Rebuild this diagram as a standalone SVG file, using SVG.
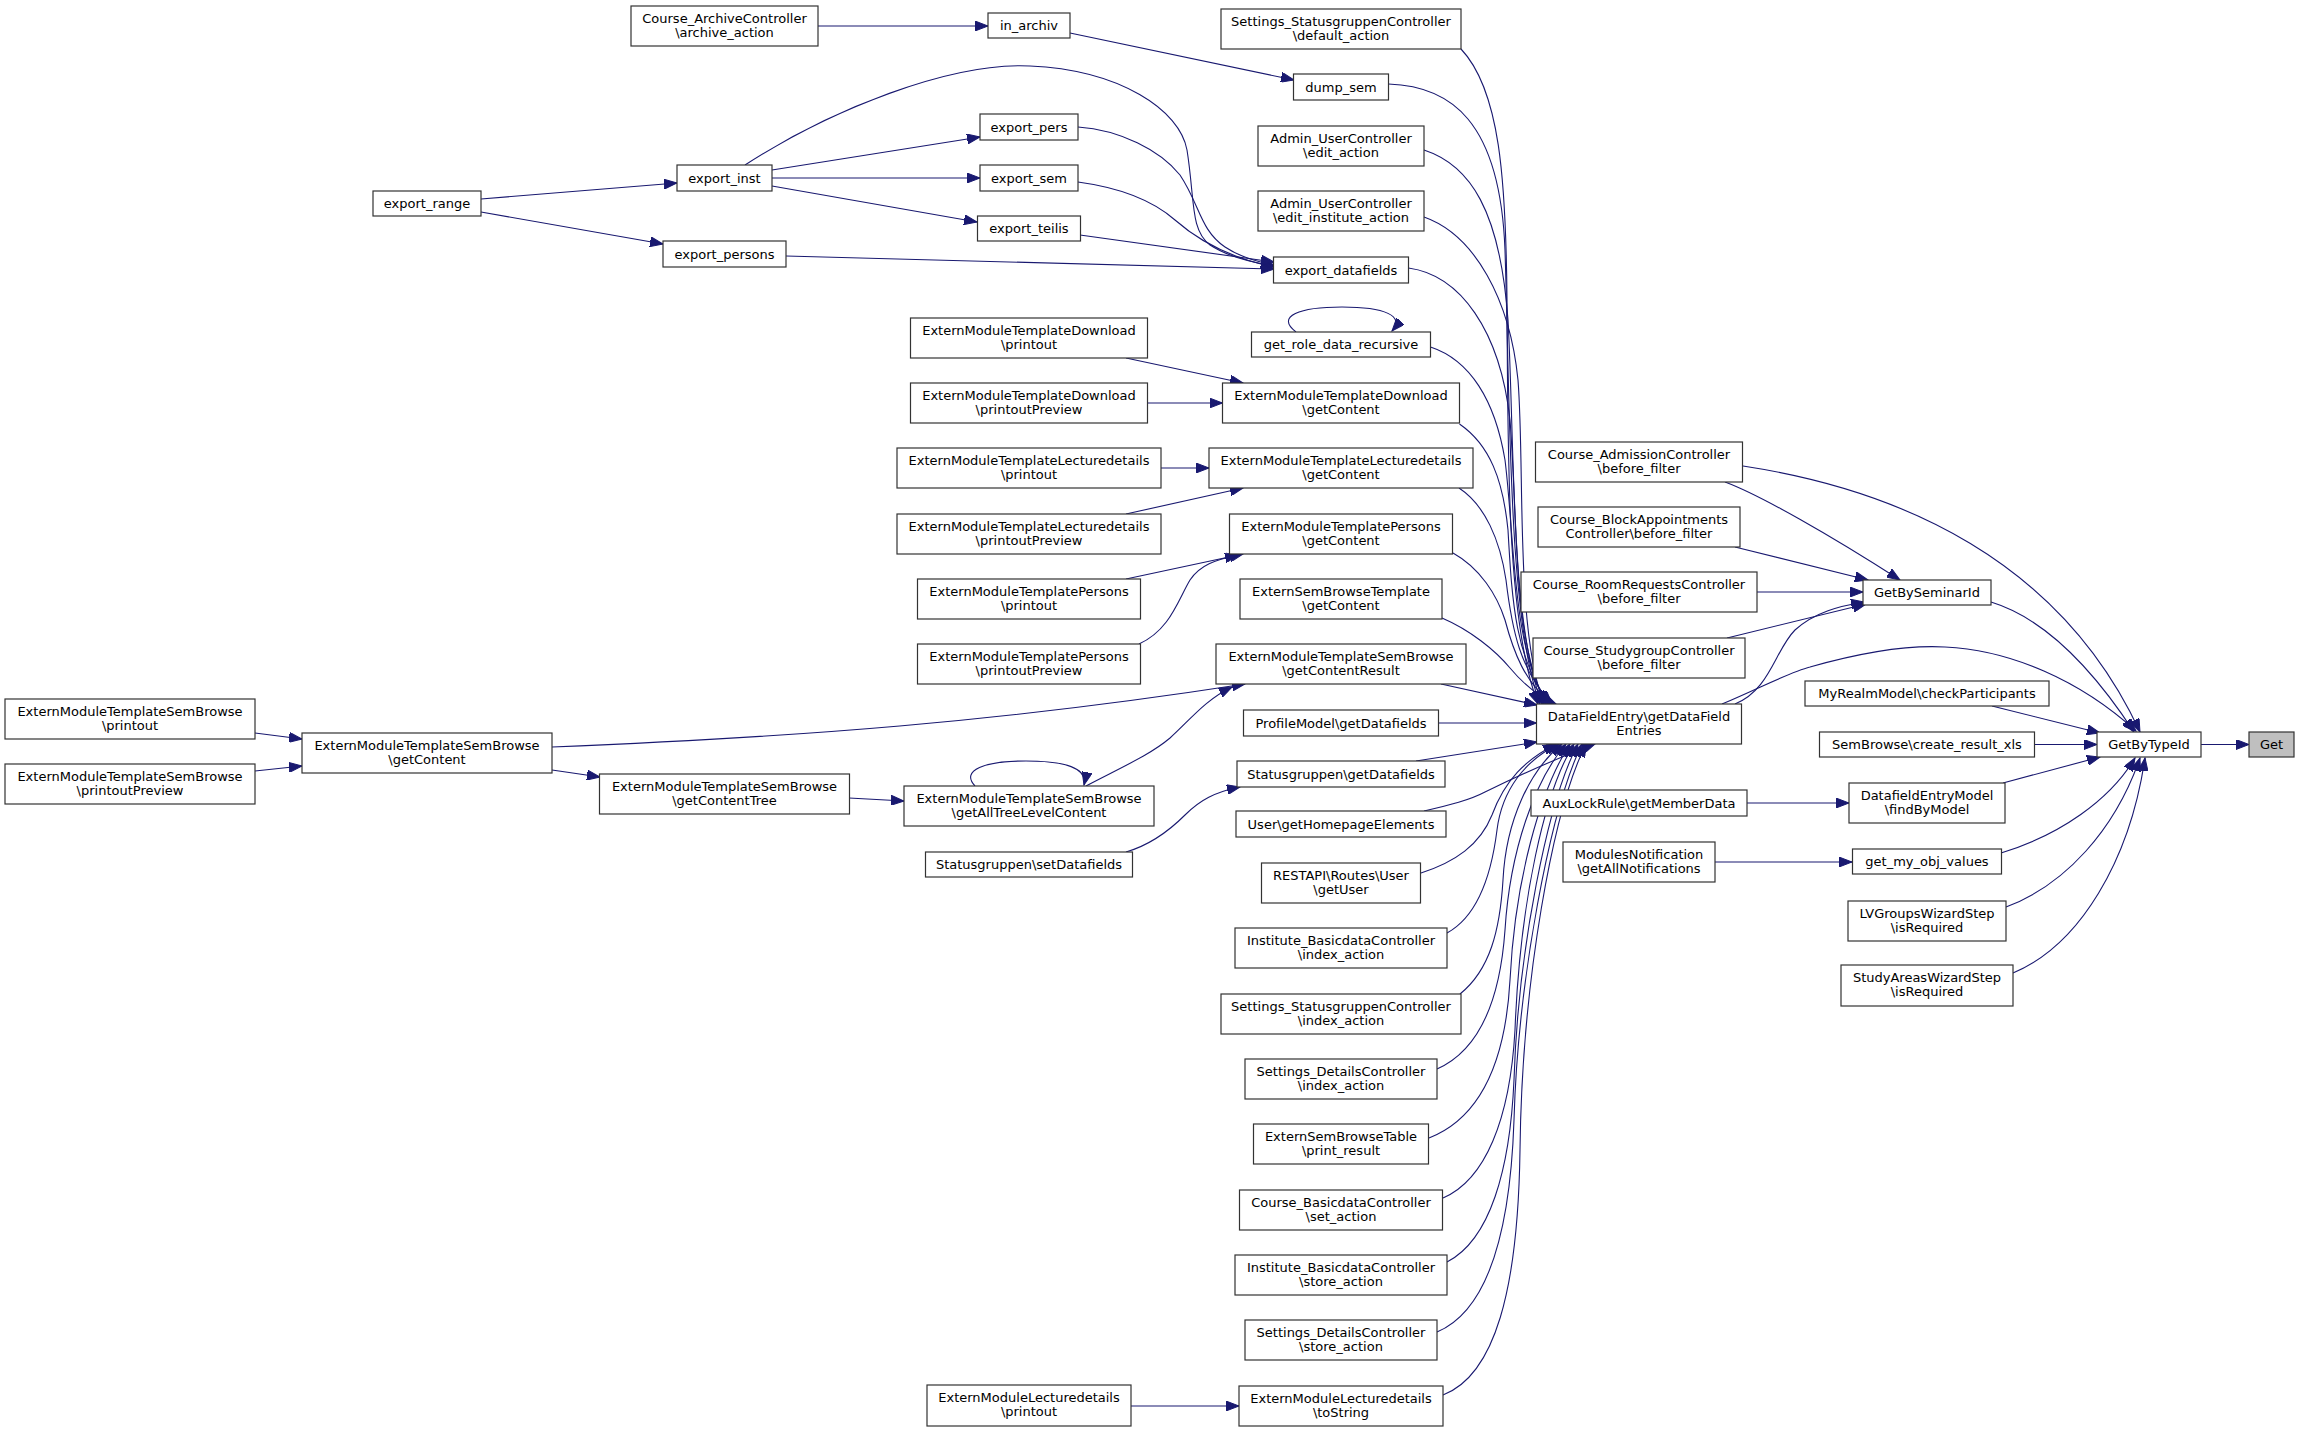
<svg xmlns="http://www.w3.org/2000/svg" width="2299" height="1432" viewBox="0 0 2299 1432">
<defs>
<marker id="arr" markerUnits="userSpaceOnUse" markerWidth="14" markerHeight="10" refX="13" refY="5" orient="auto">
<path d="M0,0 L13,5 L0,10 z" fill="#191970" stroke="#191970" stroke-width="1"/>
</marker>
<style>
.node rect{fill:#ffffff;stroke:#333333;stroke-width:1.2}
.node.hl rect{fill:#bfbfbf}
.node text{font-family:"DejaVu Sans","Liberation Sans",sans-serif;font-size:13px;text-anchor:middle;fill:#000000}
.edges path{fill:none;stroke:#191970;stroke-width:1.1;marker-end:url(#arr)}
</style>
</defs>
<rect x="0" y="0" width="2299" height="1432" fill="#ffffff"/>
<g class="edges" id="connectors">
<path d="M2201,744.5 L2249,744.5"/>
<path d="M2034.5,744.5 L2097,744.5"/>
<path d="M1992,706 L2100,733"/>
<path d="M2003,783 L2100,757"/>
<path d="M2001,853 C2060,835 2110,800 2135,758"/>
<path d="M2006,907 C2065,885 2115,830 2140,758"/>
<path d="M2013,973 C2080,945 2130,860 2145,758"/>
<path d="M1991,602 C2050,620 2100,680 2134,732"/>
<path d="M1743,466 C1900,490 2060,560 2140,732"/>
<path d="M1725,482 C1760,495 1830,535 1900,580"/>
<path d="M1735,547 L1868,580"/>
<path d="M1757,592 L1863,592"/>
<path d="M1727,638 L1866,604"/>
<path d="M1735,704 C1770,690 1775,650 1795,630 C1815,612 1840,606 1864,602"/>
<path d="M1722,704 C1760,688 1790,672 1810,667 C1870,650 1910,645 1945,647 C2010,650 2080,680 2136,731"/>
<path d="M1747,803 L1849,803"/>
<path d="M1715,862 L1852,862"/>
<path d="M481,199 L677,183"/>
<path d="M481,212 L663,244"/>
<path d="M772,170 L980,137"/>
<path d="M772,178 L980,178"/>
<path d="M772,186 L977,222"/>
<path d="M818,26 L988,26"/>
<path d="M1070,33 L1294,80"/>
<path d="M745,165 C830,110 950,62 1030,66 C1120,70 1180,110 1187,150 C1195,200 1190,230 1210,245 C1230,258 1255,263 1274,266"/>
<path d="M1078,127 C1120,130 1160,150 1180,175 C1200,205 1200,230 1225,247 C1240,257 1258,262 1274,265"/>
<path d="M1078,182 C1115,187 1150,198 1175,220 C1200,242 1230,258 1274,267"/>
<path d="M1080,235 L1274,262"/>
<path d="M786,256 L1274,269"/>
<path d="M1296,332 C1275,316 1300,307 1342,307 C1385,307 1405,316 1392,331"/>
<path d="M1126,358 L1243,383"/>
<path d="M1147.5,403 L1222.5,403"/>
<path d="M1161,468 L1209,468"/>
<path d="M1126,514 L1243,488"/>
<path d="M1126,579 L1243,554"/>
<path d="M1139,644 C1170,630 1178,600 1190,580 C1200,565 1215,560 1238,555"/>
<path d="M255,733 L302,739"/>
<path d="M255,771 L302,766"/>
<path d="M552,747 C800,737 1000,722 1245,684"/>
<path d="M552,770 L600,777"/>
<path d="M849,798 L904,801"/>
<path d="M1086,786 C1120,768 1150,755 1170,738 C1190,720 1205,700 1232,687"/>
<path d="M975,786 C960,770 985,761 1026,761 C1065,761 1088,768 1084,785"/>
<path d="M1126,852 C1150,845 1170,830 1185,815 C1200,800 1215,792 1240,787"/>
<path d="M1131,1406 L1239,1406"/>
<path d="M1461,49 C1500,90 1506,180 1507,300 C1508,450 1506,620 1538,704"/>
<path d="M1388.5,84 C1450,86 1500,120 1505,250 C1510,400 1508,620 1540,704"/>
<path d="M1424,150 C1470,165 1500,210 1508,320 C1515,450 1510,620 1542,704"/>
<path d="M1424,217 C1475,235 1510,300 1518,380 C1525,470 1515,630 1544,704"/>
<path d="M1408.5,268 C1460,275 1500,330 1510,420 C1518,520 1512,640 1546,704"/>
<path d="M1430.5,347 C1470,360 1495,400 1505,460 C1515,540 1512,650 1548,704"/>
<path d="M1459.5,424 C1490,445 1503,480 1508,530 C1512,600 1515,660 1550,704"/>
<path d="M1459,488 C1485,505 1500,540 1506,580 C1512,630 1520,670 1552,704"/>
<path d="M1453,553 C1480,568 1497,595 1505,620 C1513,650 1525,685 1554,704"/>
<path d="M1442,618 C1470,630 1495,650 1510,668 C1520,680 1535,695 1556,704"/>
<path d="M1441,684 L1537,705"/>
<path d="M1438.5,723 L1536.5,723"/>
<path d="M1416,761 L1537,742"/>
<path d="M1424,811 C1450,805 1470,800 1485,792 C1520,775 1560,757 1595,744"/>
<path d="M1421,873 C1455,862 1480,845 1492,815 C1505,780 1525,760 1556,744"/>
<path d="M1447,933 C1480,915 1492,870 1497,830 C1502,790 1525,760 1559,744"/>
<path d="M1460,994 C1490,970 1500,930 1503,880 C1506,820 1530,770 1562,744"/>
<path d="M1437,1069 C1480,1050 1500,1000 1505,930 C1510,850 1535,780 1566,744"/>
<path d="M1429,1138 C1475,1120 1505,1070 1510,980 C1515,880 1540,790 1570,744"/>
<path d="M1443,1198 C1485,1180 1510,1120 1515,1030 C1520,900 1545,790 1574,744"/>
<path d="M1447,1262 C1490,1240 1510,1170 1514,1080 C1518,950 1548,800 1578,744"/>
<path d="M1437,1332 C1485,1312 1510,1240 1514,1120 C1518,980 1550,810 1582,744"/>
<path d="M1443,1395 C1495,1375 1518,1290 1520,1150 C1522,980 1553,810 1586,744"/>
</g>
<g id="n_sbprintout" class="node"><rect x="5" y="699" width="250" height="40"/><text x="130" y="715.5">ExternModuleTemplateSemBrowse</text><text x="130" y="730">\printout</text></g>
<g id="n_sbprintoutprev" class="node"><rect x="5" y="764" width="250" height="40"/><text x="130" y="780.5">ExternModuleTemplateSemBrowse</text><text x="130" y="795">\printoutPreview</text></g>
<g id="n_export_range" class="node"><rect x="373" y="191" width="108" height="25"/><text x="427" y="208">export_range</text></g>
<g id="n_sbgetcontent" class="node"><rect x="302" y="733" width="250" height="40"/><text x="427" y="749.5">ExternModuleTemplateSemBrowse</text><text x="427" y="764">\getContent</text></g>
<g id="n_archive" class="node"><rect x="631" y="6" width="187" height="40"/><text x="724.5" y="22.5">Course_ArchiveController</text><text x="724.5" y="37">\archive_action</text></g>
<g id="n_export_inst" class="node"><rect x="677" y="165" width="95" height="26"/><text x="724.5" y="182.5">export_inst</text></g>
<g id="n_export_persons" class="node"><rect x="663" y="241" width="123" height="26"/><text x="724.5" y="258.5">export_persons</text></g>
<g id="n_getcontenttree" class="node"><rect x="599.5" y="774" width="250" height="40"/><text x="724.5" y="790.5">ExternModuleTemplateSemBrowse</text><text x="724.5" y="805">\getContentTree</text></g>
<g id="n_in_archiv" class="node"><rect x="988" y="13" width="82" height="25"/><text x="1029" y="30">in_archiv</text></g>
<g id="n_export_pers" class="node"><rect x="980" y="114" width="98" height="26"/><text x="1029" y="131.5">export_pers</text></g>
<g id="n_export_sem" class="node"><rect x="980" y="165" width="98" height="26"/><text x="1029" y="182.5">export_sem</text></g>
<g id="n_export_teilis" class="node"><rect x="977.5" y="216" width="103" height="25"/><text x="1029" y="233">export_teilis</text></g>
<g id="n_dlprintout" class="node"><rect x="910.5" y="318" width="237" height="40"/><text x="1029" y="334.5">ExternModuleTemplateDownload</text><text x="1029" y="349">\printout</text></g>
<g id="n_dlprintoutprev" class="node"><rect x="910.5" y="383" width="237" height="40"/><text x="1029" y="399.5">ExternModuleTemplateDownload</text><text x="1029" y="414">\printoutPreview</text></g>
<g id="n_ldprintout" class="node"><rect x="897" y="448" width="264" height="40"/><text x="1029" y="464.5">ExternModuleTemplateLecturedetails</text><text x="1029" y="479">\printout</text></g>
<g id="n_ldprintoutprev" class="node"><rect x="897" y="514" width="264" height="40"/><text x="1029" y="530.5">ExternModuleTemplateLecturedetails</text><text x="1029" y="545">\printoutPreview</text></g>
<g id="n_psprintout" class="node"><rect x="917.5" y="579" width="223" height="40"/><text x="1029" y="595.5">ExternModuleTemplatePersons</text><text x="1029" y="610">\printout</text></g>
<g id="n_psprintoutprev" class="node"><rect x="917.5" y="644" width="223" height="40"/><text x="1029" y="660.5">ExternModuleTemplatePersons</text><text x="1029" y="675">\printoutPreview</text></g>
<g id="n_getalltree" class="node"><rect x="904" y="786" width="250" height="40"/><text x="1029" y="802.5">ExternModuleTemplateSemBrowse</text><text x="1029" y="817">\getAllTreeLevelContent</text></g>
<g id="n_setdatafields" class="node"><rect x="925.5" y="852" width="207" height="25"/><text x="1029" y="869">Statusgruppen\setDatafields</text></g>
<g id="n_elprintout" class="node"><rect x="927" y="1385" width="204" height="41"/><text x="1029" y="1401.5">ExternModuleLecturedetails</text><text x="1029" y="1416">\printout</text></g>
<g id="n_default_action" class="node"><rect x="1221" y="9" width="240" height="40"/><text x="1341" y="25.5">Settings_StatusgruppenController</text><text x="1341" y="40">\default_action</text></g>
<g id="n_dump_sem" class="node"><rect x="1293.5" y="74" width="95" height="26"/><text x="1341" y="91.5">dump_sem</text></g>
<g id="n_edit_action" class="node"><rect x="1258" y="126" width="166" height="40"/><text x="1341" y="142.5">Admin_UserController</text><text x="1341" y="157">\edit_action</text></g>
<g id="n_edit_inst" class="node"><rect x="1258" y="191" width="166" height="40"/><text x="1341" y="207.5">Admin_UserController</text><text x="1341" y="222">\edit_institute_action</text></g>
<g id="n_export_datafields" class="node"><rect x="1273.5" y="257" width="135" height="26"/><text x="1341" y="274.5">export_datafields</text></g>
<g id="n_get_role" class="node"><rect x="1251.5" y="332" width="179" height="25"/><text x="1341" y="349">get_role_data_recursive</text></g>
<g id="n_dlgetcontent" class="node"><rect x="1222.5" y="383" width="237" height="40"/><text x="1341" y="399.5">ExternModuleTemplateDownload</text><text x="1341" y="414">\getContent</text></g>
<g id="n_ldgetcontent" class="node"><rect x="1209" y="448" width="264" height="40"/><text x="1341" y="464.5">ExternModuleTemplateLecturedetails</text><text x="1341" y="479">\getContent</text></g>
<g id="n_psgetcontent" class="node"><rect x="1229.5" y="514" width="223" height="40"/><text x="1341" y="530.5">ExternModuleTemplatePersons</text><text x="1341" y="545">\getContent</text></g>
<g id="n_esbtgetcontent" class="node"><rect x="1240" y="579" width="202" height="40"/><text x="1341" y="595.5">ExternSemBrowseTemplate</text><text x="1341" y="610">\getContent</text></g>
<g id="n_getcontentresult" class="node"><rect x="1216" y="644" width="250" height="40"/><text x="1341" y="660.5">ExternModuleTemplateSemBrowse</text><text x="1341" y="675">\getContentResult</text></g>
<g id="n_profile" class="node"><rect x="1243.5" y="710" width="195" height="26"/><text x="1341" y="727.5">ProfileModel\getDatafields</text></g>
<g id="n_sggetdatafields" class="node"><rect x="1237" y="761" width="208" height="26"/><text x="1341" y="778.5">Statusgruppen\getDatafields</text></g>
<g id="n_homepage" class="node"><rect x="1236" y="811" width="210" height="26"/><text x="1341" y="828.5">User\getHomepageElements</text></g>
<g id="n_getuser" class="node"><rect x="1261.5" y="863" width="159" height="40"/><text x="1341" y="879.5">RESTAPI\Routes\User</text><text x="1341" y="894">\getUser</text></g>
<g id="n_inst_index" class="node"><rect x="1235" y="928" width="212" height="40"/><text x="1341" y="944.5">Institute_BasicdataController</text><text x="1341" y="959">\index_action</text></g>
<g id="n_sg_index" class="node"><rect x="1221" y="994" width="240" height="40"/><text x="1341" y="1010.5">Settings_StatusgruppenController</text><text x="1341" y="1025">\index_action</text></g>
<g id="n_det_index" class="node"><rect x="1245" y="1059" width="192" height="40"/><text x="1341" y="1075.5">Settings_DetailsController</text><text x="1341" y="1090">\index_action</text></g>
<g id="n_print_result" class="node"><rect x="1253.5" y="1124" width="175" height="40"/><text x="1341" y="1140.5">ExternSemBrowseTable</text><text x="1341" y="1155">\print_result</text></g>
<g id="n_set_action" class="node"><rect x="1239.5" y="1190" width="203" height="40"/><text x="1341" y="1206.5">Course_BasicdataController</text><text x="1341" y="1221">\set_action</text></g>
<g id="n_inst_store" class="node"><rect x="1235" y="1255" width="212" height="40"/><text x="1341" y="1271.5">Institute_BasicdataController</text><text x="1341" y="1286">\store_action</text></g>
<g id="n_det_store" class="node"><rect x="1245" y="1320" width="192" height="40"/><text x="1341" y="1336.5">Settings_DetailsController</text><text x="1341" y="1351">\store_action</text></g>
<g id="n_tostring" class="node"><rect x="1239" y="1386" width="204" height="40"/><text x="1341" y="1402.5">ExternModuleLecturedetails</text><text x="1341" y="1417">\toString</text></g>
<g id="n_admission" class="node"><rect x="1535.5" y="442" width="207" height="40"/><text x="1639" y="458.5">Course_AdmissionController</text><text x="1639" y="473">\before_filter</text></g>
<g id="n_blockapp" class="node"><rect x="1538" y="507" width="202" height="40"/><text x="1639" y="523.5">Course_BlockAppointments</text><text x="1639" y="538">Controller\before_filter</text></g>
<g id="n_roomreq" class="node"><rect x="1521" y="572" width="236" height="40"/><text x="1639" y="588.5">Course_RoomRequestsController</text><text x="1639" y="603">\before_filter</text></g>
<g id="n_studygroup" class="node"><rect x="1533" y="638" width="212" height="40"/><text x="1639" y="654.5">Course_StudygroupController</text><text x="1639" y="669">\before_filter</text></g>
<g id="n_dfe" class="node"><rect x="1536.5" y="704" width="205" height="40"/><text x="1639" y="720.5">DataFieldEntry\getDataField</text><text x="1639" y="735">Entries</text></g>
<g id="n_auxlock" class="node"><rect x="1531" y="790" width="216" height="26"/><text x="1639" y="807.5">AuxLockRule\getMemberData</text></g>
<g id="n_modnotif" class="node"><rect x="1563" y="842" width="152" height="40"/><text x="1639" y="858.5">ModulesNotification</text><text x="1639" y="873">\getAllNotifications</text></g>
<g id="n_getbyseminar" class="node"><rect x="1863" y="580" width="128" height="25"/><text x="1927" y="597">GetBySeminarId</text></g>
<g id="n_myrealm" class="node"><rect x="1805" y="681" width="244" height="25"/><text x="1927" y="698">MyRealmModel\checkParticipants</text></g>
<g id="n_semxls" class="node"><rect x="1819.5" y="732" width="215" height="25"/><text x="1927" y="749">SemBrowse\create_result_xls</text></g>
<g id="n_findbymodel" class="node"><rect x="1849" y="783" width="156" height="40"/><text x="1927" y="799.5">DatafieldEntryModel</text><text x="1927" y="814">\findByModel</text></g>
<g id="n_getmyobj" class="node"><rect x="1852.5" y="849" width="149" height="25"/><text x="1927" y="866">get_my_obj_values</text></g>
<g id="n_lvgroups" class="node"><rect x="1848" y="901" width="158" height="40"/><text x="1927" y="917.5">LVGroupsWizardStep</text><text x="1927" y="932">\isRequired</text></g>
<g id="n_studyareas" class="node"><rect x="1841" y="965" width="172" height="41"/><text x="1927" y="981.5">StudyAreasWizardStep</text><text x="1927" y="996">\isRequired</text></g>
<g id="n_getbytypeid" class="node"><rect x="2097" y="732" width="104" height="25"/><text x="2149" y="749">GetByTypeId</text></g>
<g id="n_get" class="node hl"><rect x="2249" y="732" width="45" height="25"/><text x="2271.5" y="749">Get</text></g>
</svg>
